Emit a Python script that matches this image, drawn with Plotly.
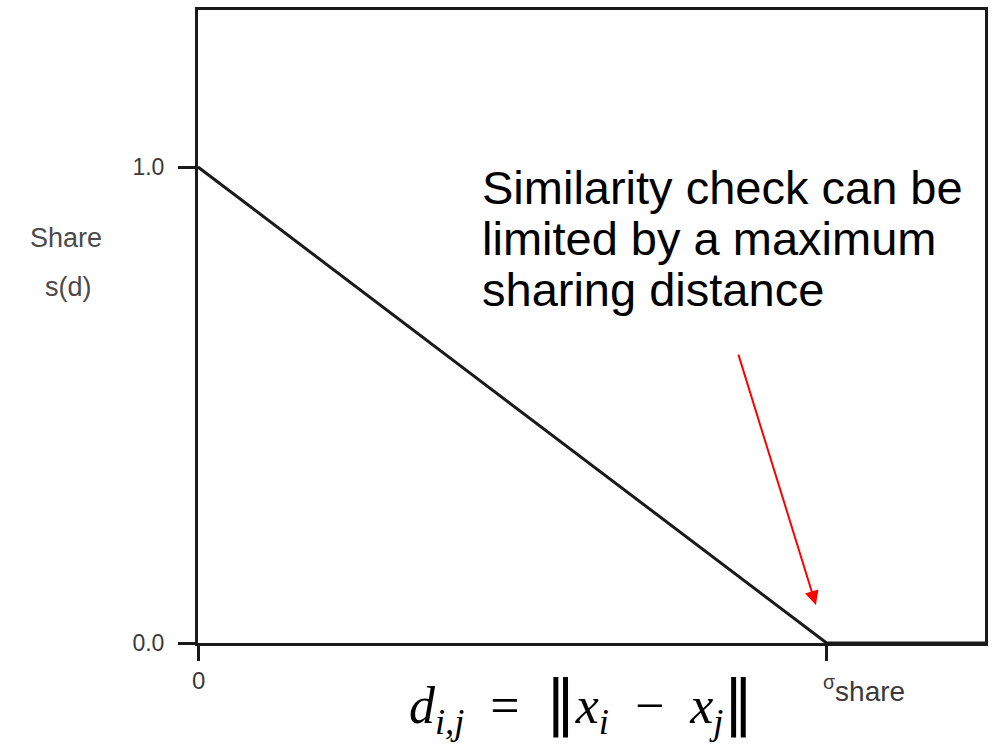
import plotly.graph_objects as go

# Triangular sharing function s(d): full share at d = 0, none at d = sigma_share
dist = [0.0, 1.0, 1.252]
share = [1.0, 0.0, 0.0]

y_tick_vals = [0.0, 1.0]
y_tick_labels = ["0.0", "1.0"]
x_tick_vals = [0.0, 1.0]
x_tick_labels = ["0", "<sup>σ</sup>share"]

note_lines = ["Similarity check can be", "limited by a maximum", "sharing distance"]

X_MAX = 1.252
Y_MAX = 1.33

W, H = 995, 749
L, R, T, B = 198, 7, 10, 106
PW, PH = W - L - R, H - T - B


def px(x):
    """page pixel x -> paper x"""
    return (x - L) / PW


def py(y):
    """page pixel y (from top) -> paper y"""
    return (H - B - y) / PH


SANS = "Liberation Sans, Arial, Helvetica, sans-serif"
GREY = "#3a3a3a"
INK = "#1a1a1a"

fig = go.Figure()

fig.add_trace(go.Scatter(
    x=dist, y=share, mode="lines",
    line=dict(color=INK, width=3),
    hoverinfo="skip", showlegend=False,
))

fig.update_xaxes(
    range=[0, X_MAX], tickvals=x_tick_vals, showticklabels=False,
    ticks="outside", ticklen=15, tickwidth=3, tickcolor=INK,
    showline=True, linewidth=3, linecolor=INK, mirror=True,
    showgrid=False, zeroline=False, fixedrange=True,
)
fig.update_yaxes(
    range=[0, Y_MAX], tickvals=y_tick_vals, ticktext=y_tick_labels,
    ticks="outside", ticklen=17, tickwidth=3, tickcolor=INK,
    tickfont=dict(family=SANS, size=23, color=GREY), ticklabelstandoff=9,
    showline=True, linewidth=3, linecolor=INK, mirror=True,
    showgrid=False, zeroline=False, fixedrange=True,
)

annotations = []

# x tick labels: "0" centred on its tick, sigma_share hanging right of its tick
annotations.append(dict(
    x=x_tick_vals[0], y=0, xref="x", yref="y", text=x_tick_labels[0],
    showarrow=False, xanchor="center", yanchor="top", yshift=-22,
    font=dict(family=SANS, size=24, color=GREY),
))
annotations.append(dict(
    x=x_tick_vals[1], y=0, xref="x", yref="y", text=x_tick_labels[1],
    showarrow=False, xanchor="left", yanchor="top", yshift=-26, xshift=-6,
    font=dict(family=SANS, size=28, color=GREY),
))

# y axis title, two stacked words
for txt, (cx, cy) in [("Share", (65, 238)), ("s(d)", (68, 287))]:
    annotations.append(dict(
        x=px(cx), y=py(cy), xref="paper", yref="paper", text=txt,
        showarrow=False, xanchor="center", yanchor="middle",
        font=dict(family=SANS, size=27, color="#4a4a4a"),
    ))

# callout text
for txt, cy in zip(note_lines, [187, 238, 289]):
    annotations.append(dict(
        x=px(481), y=py(cy), xref="paper", yref="paper", text=txt,
        showarrow=False, xanchor="left", yanchor="middle",
        font=dict(family=SANS, size=47, color="#000000"),
    ))

# red arrow pointing at sigma_share
annotations.append(dict(
    x=0.983, y=0.080, ax=0.859, ay=0.609, xref="x", yref="y", axref="x", ayref="y",
    text="", showarrow=True, arrowhead=2, arrowsize=1.4, arrowwidth=2,
    arrowcolor="#ff0000",
))

# distance definition below the plot
bar = "<span style='font-family:DejaVu Sans;font-size:60px'>‖</span>"
formula = (
    "<i>d</i><sub><i>i,j</i></sub>&nbsp;&nbsp;=&nbsp;&nbsp;" + bar
    + "<i>x</i><sub><i>i</i></sub>&nbsp;&nbsp;−&nbsp;&nbsp;<i>x</i><sub><i>j</i></sub>" + bar
)
annotations.append(dict(
    x=px(582), y=py(704), xref="paper", yref="paper", text=formula,
    showarrow=False, xanchor="center", yanchor="middle",
    font=dict(family="Liberation Serif, DejaVu Serif, serif", size=52, color="#000000"),
))

fig.update_layout(
    width=W, height=H,
    margin=dict(l=L, r=R, t=T, b=B),
    paper_bgcolor="white", plot_bgcolor="white",
    annotations=annotations,
    showlegend=False,
)

fig.write_html("out.html", config={"displayModeBar": False})
